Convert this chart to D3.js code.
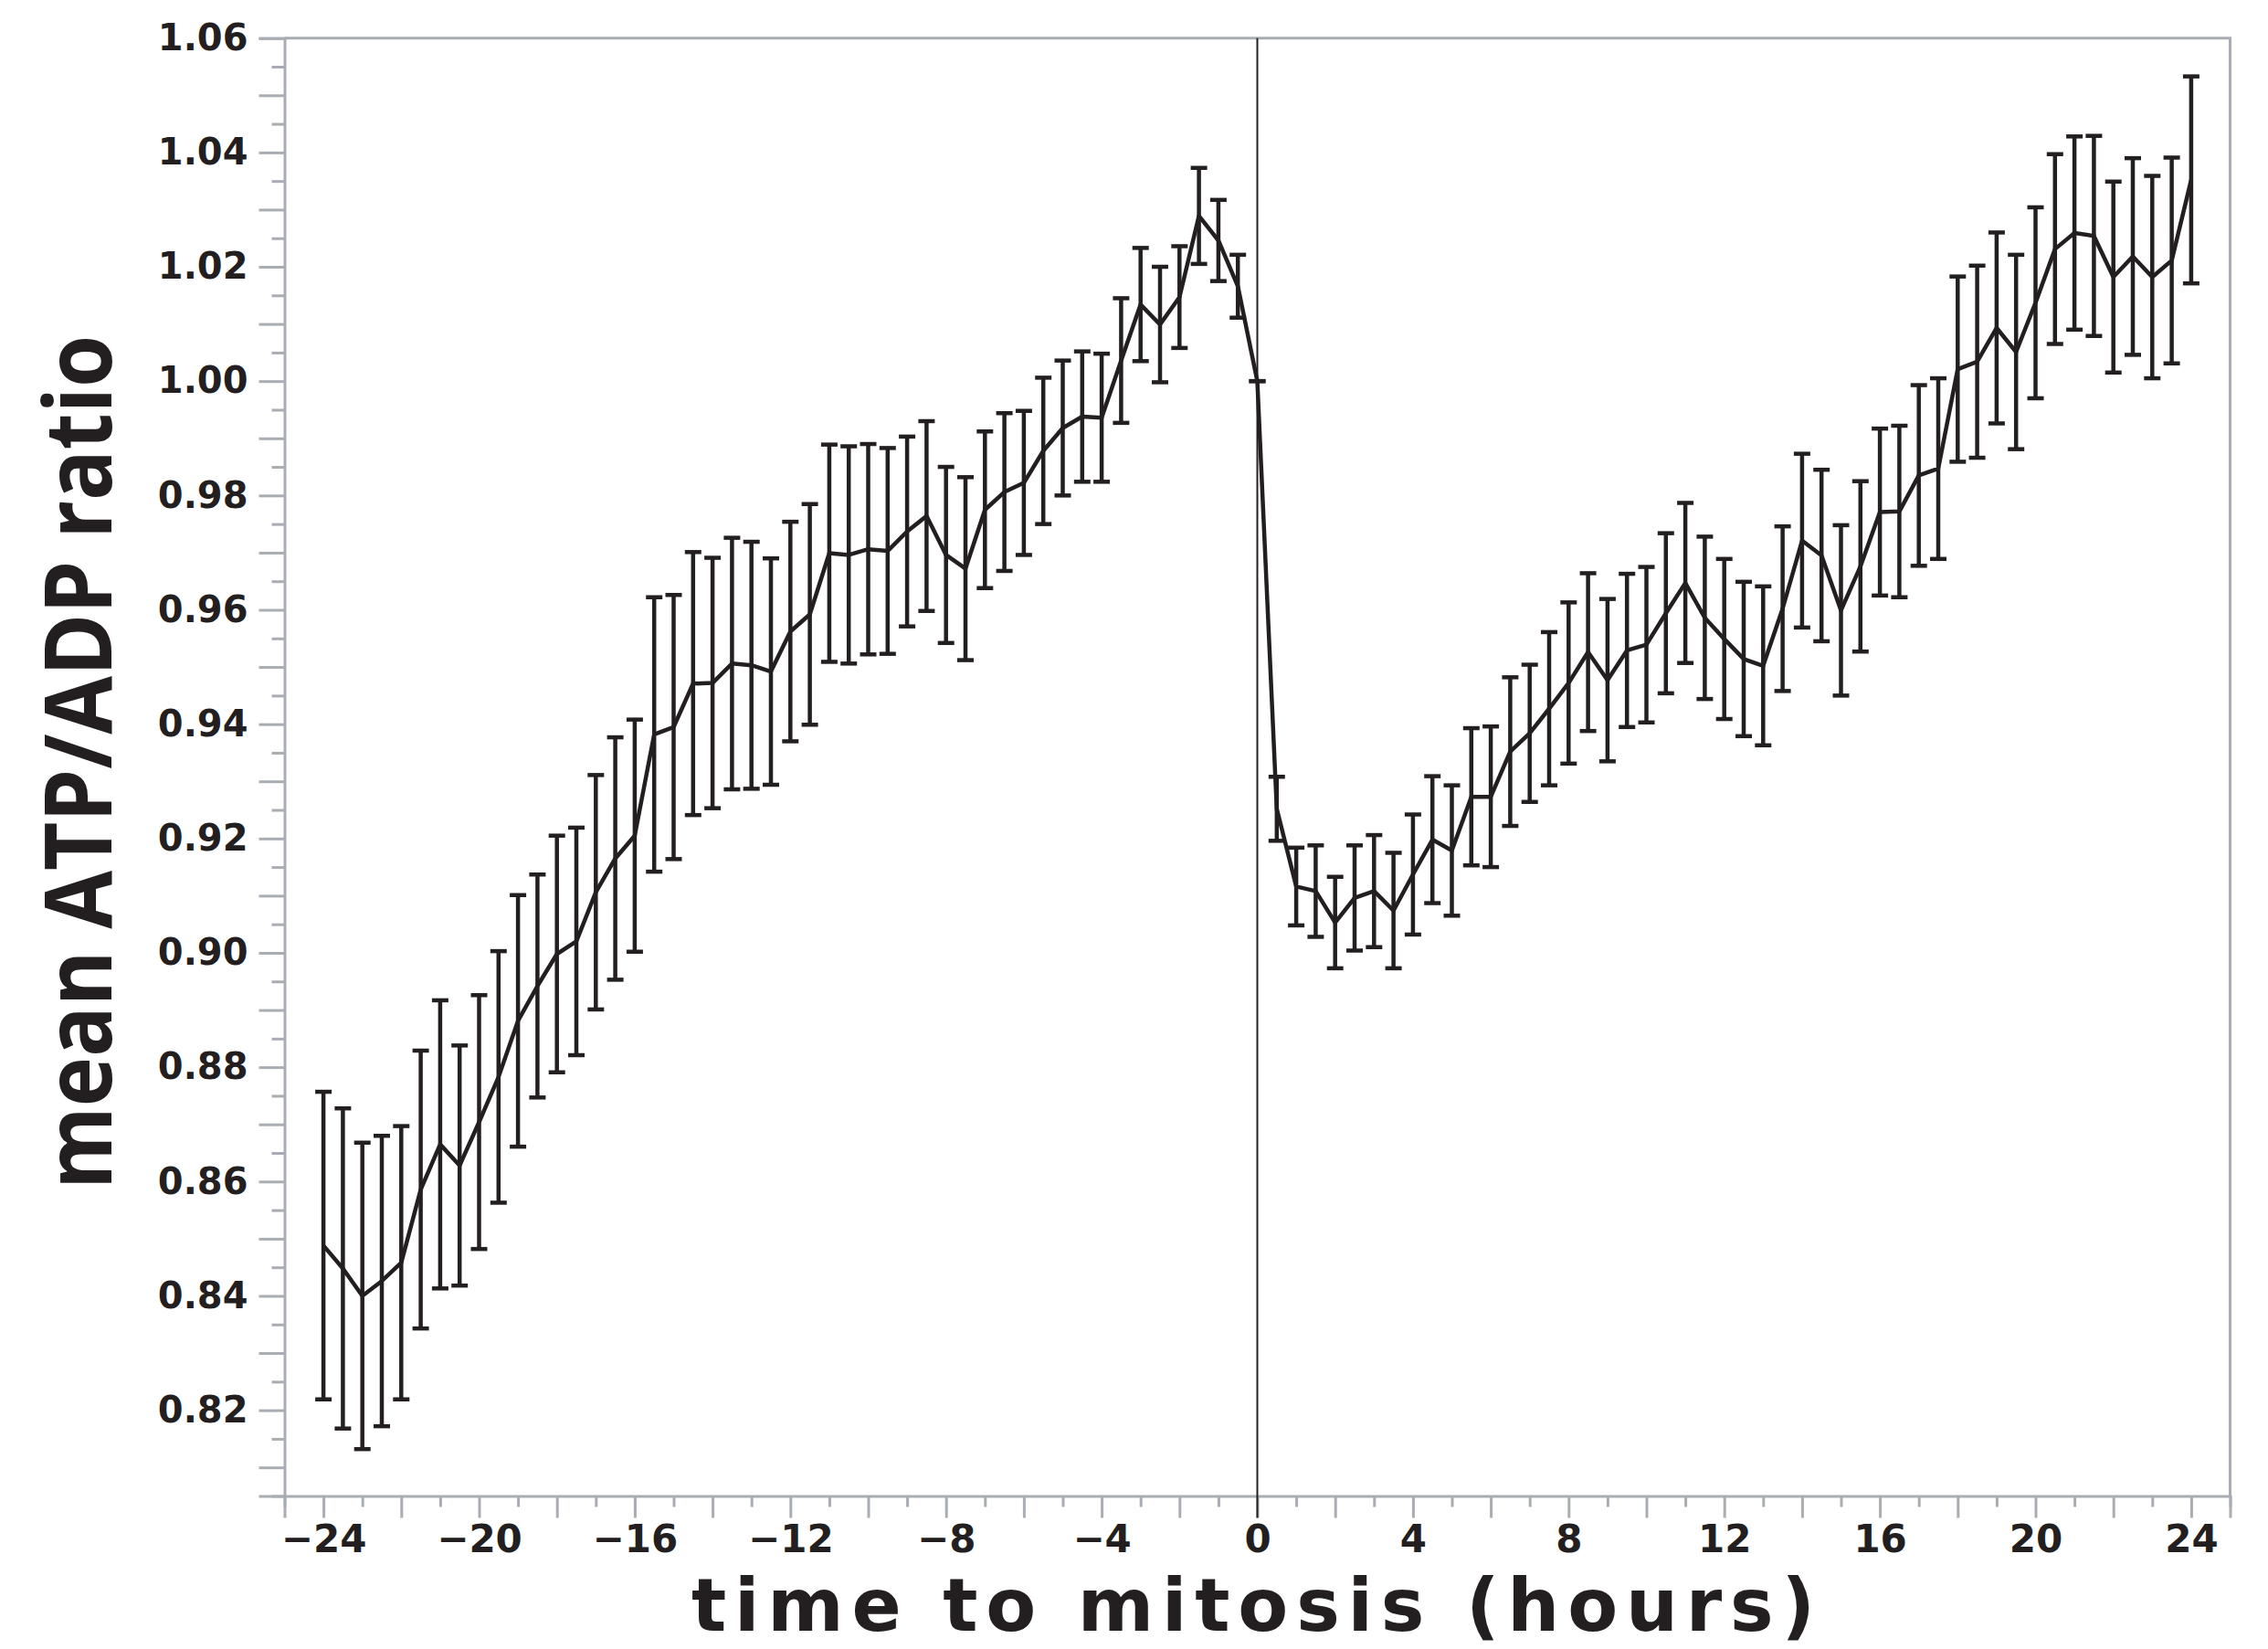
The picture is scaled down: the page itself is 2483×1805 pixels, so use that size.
<!DOCTYPE html>
<html>
<head>
<meta charset="utf-8">
<script src="https://cdn.jsdelivr.net/npm/d3@7"></script>
<style>
  html, body { margin: 0; padding: 0; background: #ffffff; }
  svg { display: block; }
</style>
</head>
<body>
<script>
// ---- data (time to mitosis, hours) ----
const times = [-24, -23.5, -23, -22.5, -22, -21.5, -21, -20.5, -20, -19.5, -19, -18.5, -18, -17.5, -17, -16.5, -16, -15.5, -15, -14.5, -14, -13.5, -13, -12.5, -12, -11.5, -11, -10.5, -10, -9.5, -9, -8.5, -8, -7.5, -7, -6.5, -6, -5.5, -5, -4.5, -4, -3.5, -3, -2.5, -2, -1.5, -1, -0.5, 0,
  0.5, 1, 1.5, 2, 2.5, 3, 3.5, 4, 4.5, 5, 5.5, 6, 6.5, 7, 7.5, 8, 8.5, 9, 9.5, 10, 10.5, 11, 11.5, 12, 12.5, 13, 13.5, 14, 14.5, 15, 15.5, 16, 16.5, 17, 17.5, 18, 18.5, 19, 19.5, 20, 20.5, 21, 21.5, 22, 22.5, 23, 23.5, 24];

const meanRatio = [0.8488, 0.8448, 0.8400, 0.8426, 0.8458, 0.8586, 0.8665, 0.8628, 0.8704, 0.8783, 0.8881, 0.8942, 0.8998, 0.9020, 0.9106, 0.9165, 0.9205, 0.9382, 0.9395, 0.9471, 0.9472, 0.9506, 0.9503, 0.9492, 0.9562, 0.9592, 0.9699, 0.9696, 0.9706, 0.9703, 0.9737, 0.9764, 0.9696, 0.9672, 0.9775, 0.9806, 0.9822, 0.9878, 0.9918, 0.9938, 0.9936, 1.0036, 1.0134, 1.0099, 1.0147, 1.0289, 1.0246, 1.0166, 1.0000,
  0.9252, 0.9116, 0.9108, 0.9053, 0.9096, 0.9108, 0.9074, 0.9137, 0.9198, 0.9179, 0.9273, 0.9273, 0.9352, 0.9384, 0.9427, 0.9472, 0.9526, 0.9477, 0.9529, 0.9539, 0.9594, 0.9647, 0.9586, 0.9549, 0.9514, 0.9502, 0.9602, 0.9721, 0.9695, 0.9599, 0.9676, 0.9771, 0.9772, 0.9835, 0.9847, 1.0021, 1.0034, 1.0093, 1.0051, 1.0137, 1.0231, 1.0259, 1.0254, 1.0182, 1.0218, 1.0182, 1.0211, 1.0352];

const errRatio = [0.0269, 0.0280, 0.0268, 0.0254, 0.0239, 0.0243, 0.0252, 0.0210, 0.0222, 0.0220, 0.0220, 0.0195, 0.0207, 0.0199, 0.0205, 0.0212, 0.0203, 0.0240, 0.0231, 0.0230, 0.0219, 0.0220, 0.0216, 0.0198, 0.0192, 0.0193, 0.0190, 0.0190, 0.0184, 0.0180, 0.0166, 0.0166, 0.0154, 0.0160, 0.0137, 0.0138, 0.0126, 0.0128, 0.0118, 0.0114, 0.0112, 0.0109, 0.0099, 0.0101, 0.0089, 0.0084, 0.0071, 0.0055, 0.0000,
  0.0056, 0.0068, 0.0080, 0.0080, 0.0092, 0.0098, 0.0101, 0.0105, 0.0111, 0.0114, 0.0120, 0.0123, 0.0130, 0.0120, 0.0134, 0.0141, 0.0138, 0.0142, 0.0134, 0.0136, 0.0140, 0.0140, 0.0142, 0.0140, 0.0135, 0.0139, 0.0144, 0.0152, 0.0150, 0.0149, 0.0149, 0.0146, 0.0150, 0.0158, 0.0158, 0.0162, 0.0168, 0.0167, 0.0170, 0.0167, 0.0166, 0.0169, 0.0175, 0.0167, 0.0172, 0.0177, 0.0180, 0.0181];

const xTickLabels = [-24, -20, -16, -12, -8, -4, 0, 4, 8, 12, 16, 20, 24];
const yTickLabels = [0.82, 0.84, 0.86, 0.88, 0.90, 0.92, 0.94, 0.96, 0.98, 1.00, 1.02, 1.04, 1.06];
const xTitle = "time to mitosis (hours)";
const yTitle = "mean ATP/ADP ratio";

// ---- layout ----
const W = 2483, H = 1805;
const plotLeft = 311.5, plotRight = 2441.5, plotTop = 41.7, plotBottom = 1637.5;
const axisColor = "#a8acb3";
const ink = "#231f20";
const tickFont = "'DejaVu Sans', Verdana, sans-serif";

const svg = d3.select("body").append("svg")
  .attr("width", W).attr("height", H)
  .attr("viewBox", `0 0 ${W} ${H}`);
svg.append("rect").attr("width", W).attr("height", H).attr("fill", "#ffffff");

const x = d3.scaleLinear().domain([-25, 25]).range([plotLeft, plotRight]);
const y = d3.scaleLinear().domain([0.805, 1.06]).range([plotBottom, plotTop]);

// frame (top and right sides)
svg.append("path")
  .attr("d", `M${plotLeft},${plotTop}H${plotRight}V${plotBottom}`)
  .attr("fill", "none").attr("stroke", axisColor).attr("stroke-width", 3);

// ---- y axis ----
const yMinor = d3.range(805, 1061, 5).map(v => v / 1000);
const yLabelSet = new Set(yTickLabels.map(v => Math.round(v * 1000)));
const yAxis = d3.axisLeft(y)
  .tickValues(yMinor)
  .tickSizeOuter(0)
  .tickSize(28)
  .tickPadding(12)
  .tickFormat(v => yLabelSet.has(Math.round(v * 1000)) ? d3.format(".2f")(v) : "");
const gy = svg.append("g").attr("transform", `translate(${plotLeft},0)`).call(yAxis);
gy.select(".domain").attr("stroke", axisColor).attr("stroke-width", 3);
gy.selectAll(".tick line")
  .attr("stroke", axisColor).attr("stroke-width", 3)
  .attr("x2", d => (Math.round(d * 1000) % 10 === 0) ? -28 : -14);
gy.selectAll(".tick text")
  .attr("x", -40)
  .attr("fill", ink)
  .style("font-family", tickFont)
  .style("font-weight", "bold")
  .style("font-size", "40px");

// ---- x axis ----
const xMinor = d3.range(-25, 26, 1);
const xLabelSet = new Set(xTickLabels);
const xAxis = d3.axisBottom(x)
  .tickValues(xMinor)
  .tickSizeOuter(0)
  .tickSize(24)
  .tickFormat(v => xLabelSet.has(v) ? (v < 0 ? "\u2212" + Math.abs(v) : String(v)) : "");
const gx = svg.append("g").attr("transform", `translate(0,${plotBottom})`).call(xAxis);
gx.select(".domain").attr("stroke", axisColor).attr("stroke-width", 3);
gx.selectAll(".tick line")
  .attr("stroke", axisColor).attr("stroke-width", 3)
  .attr("y2", d => (Math.abs(d) % 2 === 0) ? 24 : 12);
gx.selectAll(".tick text")
  .attr("y", 61.5).attr("dy", null)
  .attr("fill", ink)
  .style("font-family", tickFont)
  .style("font-weight", "bold")
  .style("font-size", "42px");

// vertical marker at mitosis (t = 0)
svg.append("line")
  .attr("x1", x(0)).attr("x2", x(0))
  .attr("y1", plotTop).attr("y2", plotBottom + 24)
  .attr("stroke", ink).attr("stroke-width", 2);

// ---- data ----
const data = times.map((t, i) => ({ t, m: meanRatio[i], e: errRatio[i] }));

const capHalf = 9;
const bars = svg.append("g").attr("stroke", ink).attr("stroke-width", 4.5).attr("fill", "none");
bars.selectAll("line.err").data(data).join("line")
  .attr("class", "err")
  .attr("x1", d => x(d.t)).attr("x2", d => x(d.t))
  .attr("y1", d => y(d.m + d.e)).attr("y2", d => y(d.m - d.e));
bars.selectAll("line.capT").data(data).join("line")
  .attr("class", "capT")
  .attr("x1", d => x(d.t) - capHalf).attr("x2", d => x(d.t) + capHalf)
  .attr("y1", d => y(d.m + d.e)).attr("y2", d => y(d.m + d.e));
bars.selectAll("line.capB").data(data).join("line")
  .attr("class", "capB")
  .attr("x1", d => x(d.t) - capHalf).attr("x2", d => x(d.t) + capHalf)
  .attr("y1", d => y(d.m - d.e)).attr("y2", d => y(d.m - d.e));

const line = d3.line().x(d => x(d.t)).y(d => y(d.m));
svg.append("path").datum(data)
  .attr("d", line)
  .attr("fill", "none").attr("stroke", ink)
  .attr("stroke-width", 4.5).attr("stroke-linejoin", "round");

// ---- titles ----
svg.append("text")
  .attr("x", 1372).attr("y", 1785)
  .attr("text-anchor", "middle")
  .attr("fill", ink)
  .attr("textLength", 1230).attr("lengthAdjust", "spacing")
  .style("font-family", tickFont)
  .style("font-weight", "bold")
  .style("font-size", "80px")
  .text(xTitle);

svg.append("text")
  .attr("transform", "translate(121.7,834.5) rotate(-90)")
  .attr("text-anchor", "middle")
  .attr("fill", ink)
  .attr("textLength", 935).attr("lengthAdjust", "spacingAndGlyphs")
  .style("font-family", "'Open Sans', 'Noto Sans', sans-serif")
  .style("font-weight", "bold")
  .style("font-size", "103px")
  .text(yTitle);
</script>
</body>
</html>
